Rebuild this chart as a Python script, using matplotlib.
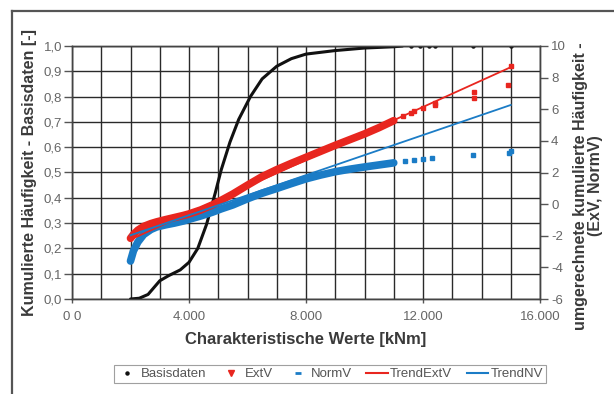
import matplotlib
matplotlib.use("Agg")
import matplotlib.pyplot as plt
from matplotlib.lines import Line2D
from matplotlib.ticker import FixedLocator, MultipleLocator, FuncFormatter

plt.rcParams['font.family'] = ['Liberation Sans', 'DejaVu Sans']
plt.rcParams['axes.unicode_minus'] = False

# ---------------- data ----------------
# Basisdaten (left axis, cumulative frequency)
basis_x = [2000, 2300, 2600, 3000, 3300, 3700, 4000, 4300, 4600, 4900, 5100, 5400,
           5700, 6100, 6500, 7000, 7500, 8000, 9000, 10000, 11000, 11300]
basis_y = [0.0, 0.003, 0.018, 0.072, 0.092, 0.115, 0.145, 0.20, 0.295, 0.42, 0.51, 0.62,
           0.71, 0.80, 0.87, 0.92, 0.95, 0.968, 0.982, 0.992, 0.997, 1.0]
basis_tail_x = [11600, 11900, 12200, 12400, 13700, 15000]
basis_tail_y = [1.0, 1.0, 1.0, 1.0, 1.0, 1.0]

# ExtV (right axis, transformed cumulative frequency)
extv_x = [2000, 2100, 2250, 2450, 2700, 2900, 3200, 3500, 3800, 4000, 4400, 4800, 5100,
          5500, 6000, 6500, 7000, 7500, 8000, 8500, 9000, 9500, 10000, 10500, 11000]
extv_y = [-2.16, -1.92, -1.65, -1.41, -1.23, -1.12, -0.98, -0.85, -0.72, -0.62, -0.37, -0.05,
          0.24, 0.64, 1.20, 1.74, 2.18, 2.58, 2.96, 3.34, 3.72, 4.08, 4.44, 4.84, 5.28]
extv_tail_x = [11300, 11600, 11700, 12000, 12400, 12400, 13750, 13750, 14900, 15000]
extv_tail_y = [5.60, 5.76, 5.92, 6.08, 6.40, 6.24, 6.72, 7.12, 7.54, 8.72]

# NormV (right axis)
normv_x = extv_x
normv_y = [-3.60, -2.96, -2.40, -1.92, -1.60, -1.44, -1.31, -1.20, -1.07, -0.96, -0.75, -0.51,
           -0.30, -0.05, 0.34, 0.69, 0.99, 1.30, 1.60, 1.84, 2.05, 2.21, 2.35, 2.48, 2.61]
normv_tail_x = [11400, 11700, 12000, 12300, 13700, 14950, 15000]
normv_tail_y = [2.72, 2.77, 2.83, 2.93, 3.12, 3.23, 3.36]

# Trend lines (right axis)
trend_ext_x = [2000, 15000]
trend_ext_y = [-2.24, 8.66]
trend_nv_x = [2000, 15000]
trend_nv_y = [-1.97, 6.27]

x_ticks = [0, 4000, 8000, 12000, 16000]
x_ticklabels = ["0 0", "4.000", "8.000", "12.000", "16.000"]

# ---------------- style ----------------
RED = '#e8261f'
BLUE = '#1b7cc6'
GRID = '#2a2a2a'
TICKC = '#666666'
LABC = '#3a3a3a'

fig = plt.figure(figsize=(6.14, 3.94), dpi=100)
ax = fig.add_axes([72/614, 1-299/394, 468/614, 253/394])
ax2 = ax.twinx()

# left axis: Basisdaten
ax.plot(basis_x, basis_y, color='#111111', lw=2.2, solid_capstyle='round', zorder=3)
ax.plot(basis_tail_x, basis_tail_y, ls='none', marker='o', ms=2.2, color='#111111', zorder=3)

ax.set_xlim(0, 16000)
ax.set_ylim(0, 1.0)
ax.xaxis.set_major_locator(FixedLocator(x_ticks))
ax.xaxis.set_minor_locator(MultipleLocator(1000))
ax.set_xticks(x_ticks)
ax.set_xticklabels(x_ticklabels)
ax.yaxis.set_major_locator(MultipleLocator(0.1))
ax.yaxis.set_major_formatter(FuncFormatter(lambda v, p: f"{v:.1f}".replace('.', ',')))
ax.grid(True, which='both', axis='x', color=GRID, lw=1.0)
ax.grid(True, which='major', axis='y', color=GRID, lw=1.0)
ax.set_axisbelow(True)
ax.tick_params(axis='y', which='major', length=6, width=1, color='#555555',
               labelsize=9.5, labelcolor=TICKC, pad=1)
ax.tick_params(axis='x', which='major', length=3, width=1, color='#555555',
               labelsize=9.5, labelcolor=TICKC, pad=6)
ax.tick_params(axis='x', which='minor', length=0)

# right axis: ExtV / NormV
ax2.plot(extv_x, extv_y, color=RED, lw=5.5, solid_capstyle='round', zorder=4)
ax2.plot(extv_tail_x, extv_tail_y, ls='none', marker='s', ms=2.8, color=RED, zorder=4)
ax2.plot(normv_x, normv_y, color=BLUE, lw=5.5, solid_capstyle='round', zorder=3)
ax2.plot(normv_tail_x, normv_tail_y, ls='none', marker='s', ms=2.8, color=BLUE, zorder=3)
ax2.plot(trend_ext_x, trend_ext_y, color=RED, lw=1.3, zorder=5)
ax2.plot(trend_nv_x, trend_nv_y, color=BLUE, lw=1.3, zorder=5)
ax2.set_ylim(-6, 10)
ax2.yaxis.set_major_locator(MultipleLocator(2))
ax2.yaxis.set_major_formatter(FuncFormatter(lambda v, p: f"{int(round(v))}"))
ax2.tick_params(axis='y', length=6, width=1, color='#555555', labelsize=9.5,
                labelcolor=TICKC, pad=2)

for a in (ax, ax2):
    for s in a.spines.values():
        s.set_color('#444444')
        s.set_linewidth(1.0)

ax.set_xlabel("Charakteristische Werte [kNm]", fontsize=12, fontweight='bold',
              color=LABC, labelpad=6)
ax.set_ylabel("Kumulierte Häufigkeit - Basisdaten [-]", fontsize=11.5, fontweight='bold',
              color=LABC, labelpad=5)
ax2.set_ylabel("umgerechnete kumulierte Häufigkeit -\n(ExV, NormV)", fontsize=11.5,
               fontweight='bold', color=LABC, rotation=90, linespacing=1.0,
               multialignment='center')
ax2.yaxis.set_label_coords((588 - 72) / 468, (299 - 186) / 253)
ax2.yaxis.label.set_horizontalalignment('center')
ax2.yaxis.label.set_verticalalignment('center')
ax2.yaxis.label.set_rotation_mode('anchor')

# legend
handles = [
    Line2D([], [], ls='none', marker='o', ms=2.2, color='#111111'),
    Line2D([], [], ls='none', marker='v', ms=4, color=RED),
    Line2D([], [], ls='none', marker='_', ms=5, mew=2, color=BLUE),
    Line2D([], [], color=RED, lw=1.5),
    Line2D([], [], color=BLUE, lw=1.5),
]
labels = ["Basisdaten", "ExtV", "NormV", "TrendExtV", "TrendNV"]
leg = fig.legend(handles, labels, loc='center', bbox_to_anchor=(330/614, 1-374/394),
                 ncol=5, fontsize=9.5, frameon=True, fancybox=False, handlelength=1.6,
                 handletextpad=0.2, columnspacing=1.1, borderpad=0.25, edgecolor='#888888',
                 labelcolor='#555555')
leg.get_frame().set_linewidth(0.8)

# figure frame (cropped)
fig.add_artist(Line2D([12/614, 1.0], [1-11/394, 1-11/394], transform=fig.transFigure,
                      color='#555555', lw=1.6))
fig.add_artist(Line2D([12/614, 12/614], [0.0, 1-11/394], transform=fig.transFigure,
                      color='#555555', lw=1.6))

fig.savefig("out.png", dpi=100)
